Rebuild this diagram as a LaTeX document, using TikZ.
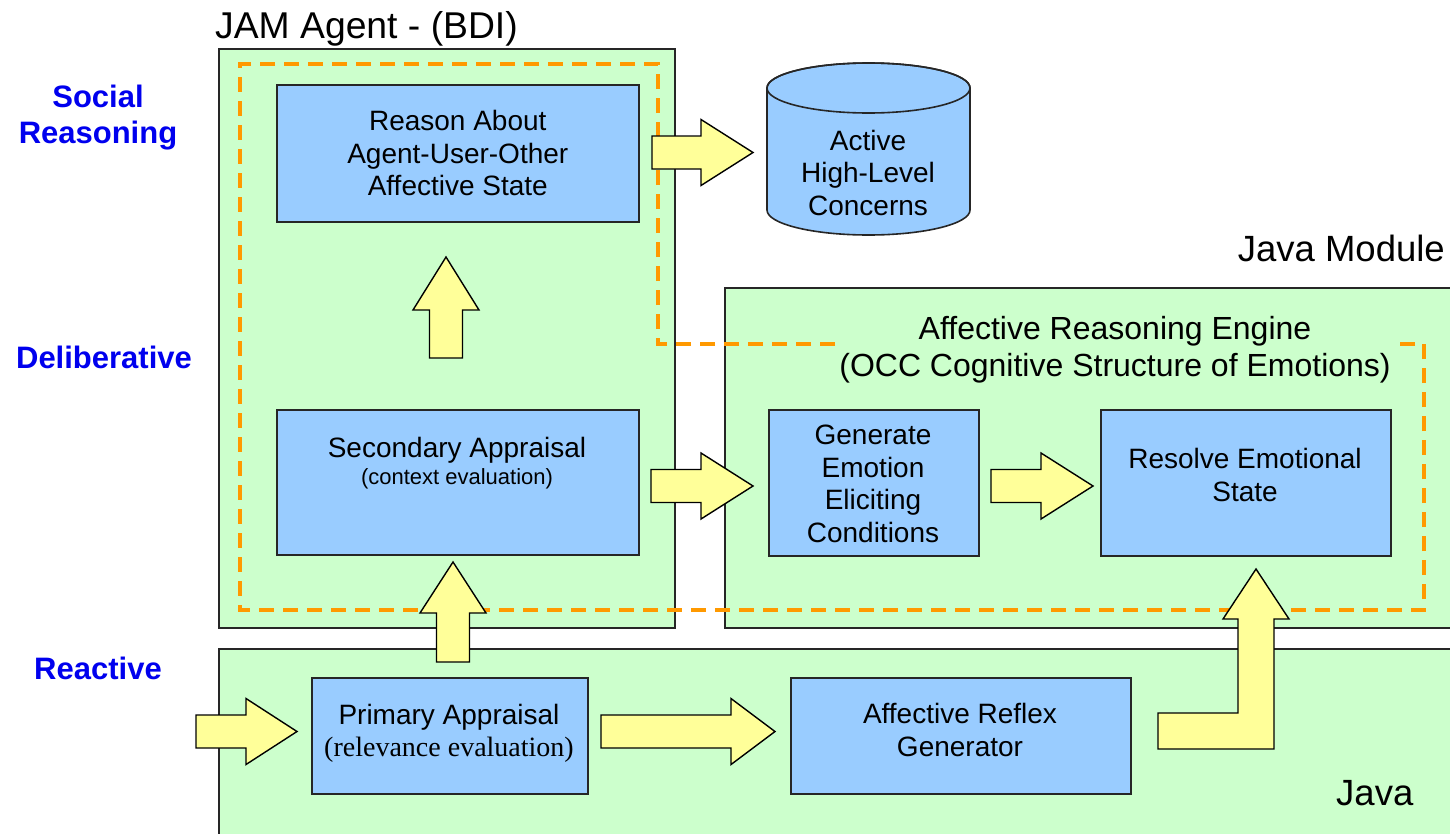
\documentclass[tikz,border=0pt]{standalone}
\usepackage{fontspec}
\setmainfont{Liberation Sans}
\newfontfamily\timesf{Liberation Serif}
\usetikzlibrary{calc}
\definecolor{boxgreen}{HTML}{CCFFCC}
\definecolor{boxblue}{HTML}{99CCFF}
\definecolor{arrowyellow}{HTML}{FFFF99}
\definecolor{dashorange}{HTML}{FF9900}
\definecolor{lblblue}{RGB}{0,0,238}
\newcommand\rightblock[3]{%
  \draw[blockarrow] ($(#1)+(0,16.5)$) -- ($(#2)+(-#3,16.5)$) -- ($(#2)+(-#3,33)$) -- (#2)
    -- ($(#2)+(-#3,-33)$) -- ($(#2)+(-#3,-16.5)$) -- ($(#1)+(0,-16.5)$) -- cycle;}
\newcommand\upblock[3]{%
  \draw[blockarrow] ($(#1)+(-16.5,0)$) -- ($(#2)+(-16.5,-#3)$) -- ($(#2)+(-33,-#3)$) -- (#2)
    -- ($(#2)+(33,-#3)$) -- ($(#2)+(16.5,-#3)$) -- ($(#1)+(16.5,0)$) -- cycle;}
\tikzset{
  greenbox/.style={draw=black!85, line width=1.6, fill=boxgreen, inner sep=0, anchor=north west},
  bluebox/.style={draw=black!85, line width=1.6, fill=boxblue, inner sep=0, anchor=north west},
  blockarrow/.style={draw=black, line width=1.4, fill=arrowyellow, line join=miter},
  dashline/.style={draw=dashorange, line width=4, dash pattern=on 15 off 9},
  boxtext/.style={font=\fontsize{28}{32.5}\selectfont, align=center, inner sep=0},
  headtext/.style={font=\fontsize{32}{37}\selectfont, align=center, inner sep=0},
  titletext/.style={font=\fontsize{36.5}{40}\selectfont, inner sep=0},
  layertext/.style={font=\fontsize{31}{36}\selectfont\bfseries, text=lblblue, align=center, inner sep=0}
}
\begin{document}
\begin{tikzpicture}[x=1pt,y=1pt]
\useasboundingbox[fill=white] (0,0) rectangle (1450,-833);
% containers
\node[greenbox, minimum width=456, minimum height=579] (jam) at (218,-48) {};
\node[greenbox, minimum width=760, minimum height=340] (javamod) at (724,-287) {};
\node[greenbox, minimum width=1260, minimum height=220] (java) at (218,-648) {};
% titles
\node[titletext, anchor=base west, font=\fontsize{37.3}{40}\selectfont] (jamlbl) at (215,-38) {JAM Agent - (BDI)};
\node[titletext, anchor=base east] (javamodlbl) at (1445,-261) {Java Module};
\node[titletext, anchor=base west] (javalbl) at (1336,-805) {Java};
% layer labels
\node[layertext] (social) at (98,-118) {Social\\Reasoning};
\node[layertext] (delib) at (104,-357) {Deliberative};
\node[layertext] (reactive) at (98,-668) {Reactive};
% dashed boundary
\draw[dashline] (835,-344) -- (658,-344) -- (658,-64) -- (240,-64) -- (240,-610) -- (1424,-610) -- (1424,-344) -- (1397,-344);
% engine heading
\node[headtext] (enginelbl) at (1115,-350) {Affective Reasoning Engine\\(OCC Cognitive Structure of Emotions)};
% blue boxes
\node[bluebox, minimum width=362, minimum height=137] (reason) at (276,-84) {};
\node[boxtext] (reasontxt) at (reason.center) {Reason About\\Agent-User-Other\\Affective State};
\node[bluebox, minimum width=362, minimum height=145] (second) at (276,-409) {};
\node[boxtext, anchor=center] (secondtxt) at (457,-450) {Secondary Appraisal};
\node[font=\fontsize{22}{26}\selectfont, inner sep=0] (secondsub) at (457,-479) {(context evaluation)};
\node[bluebox, minimum width=210, minimum height=146] (gen) at (768,-409) {};
\node[boxtext] (gentxt) at (873,-484) {Generate\\Emotion\\Eliciting\\Conditions};
\node[bluebox, minimum width=290, minimum height=146] (resolve) at (1100,-409) {};
\node[boxtext] (resolvetxt) at (1245,-475) {Resolve Emotional\\State};
\node[bluebox, minimum width=276, minimum height=116] (primary) at (311,-677) {};
\node[boxtext] (primarytxt) at (449,-717) {Primary Appraisal};
\node[font=\fontsize{28}{32}\selectfont\timesf, inner sep=0] (primarysub) at (449,-750) {(relevance evaluation)};
\node[bluebox, minimum width=340, minimum height=116] (reflex) at (790,-677) {};
\node[boxtext] (reflextxt) at (960,-730) {Affective Reflex\\Generator};
% cylinder
\draw[draw=black!85, line width=1.6, fill=boxblue] (767,-88) -- (767,-210)
  arc[start angle=180, end angle=360, x radius=101.5pt, y radius=25pt] -- (970,-88)
  arc[start angle=0, end angle=180, x radius=101.5pt, y radius=25pt] -- cycle;
\draw[draw=black!85, line width=1.6] (868.5,-88) ellipse[x radius=101.5pt, y radius=25pt];
\node[boxtext] (cyl) at (868,-172.5) {Active\\High-Level\\Concerns};
% arrow end points
\coordinate (a1t) at (652,-152.5); \coordinate (a1h) at (753,-152.5);
\coordinate (a2t) at (446,-358);   \coordinate (a2h) at (446,-257);
\coordinate (a3t) at (651,-486);   \coordinate (a3h) at (753,-486);
\coordinate (a4t) at (991,-486);   \coordinate (a4h) at (1093,-486);
\coordinate (a5t) at (453,-662);   \coordinate (a5h) at (453,-562);
\coordinate (a6t) at (196,-731.5); \coordinate (a6h) at (297,-731.5);
\coordinate (a7t) at (601,-731.5); \coordinate (a7h) at (775,-731.5);
\coordinate (a8t) at (1158,-731); \coordinate (a8h) at (1256,-569);
\rightblock{a1t}{a1h}{52}
\upblock{a2t}{a2h}{53}
\rightblock{a3t}{a3h}{52}
\rightblock{a4t}{a4h}{52}
\upblock{a5t}{a5h}{51}
\rightblock{a6t}{a6h}{51}
\rightblock{a7t}{a7h}{44}
\draw[blockarrow] ($(a8t)+(0,18)$) -- ($(a8h)+(-18,-162+18)$) -- ($(a8h)+(-18,-50)$) -- ($(a8h)+(-33,-50)$) -- (a8h)
  -- ($(a8h)+(33,-50)$) -- ($(a8h)+(18,-50)$) -- ($(a8h)+(18,-180)$) -- ($(a8t)+(0,-18)$) -- cycle;
\end{tikzpicture}
\end{document}
